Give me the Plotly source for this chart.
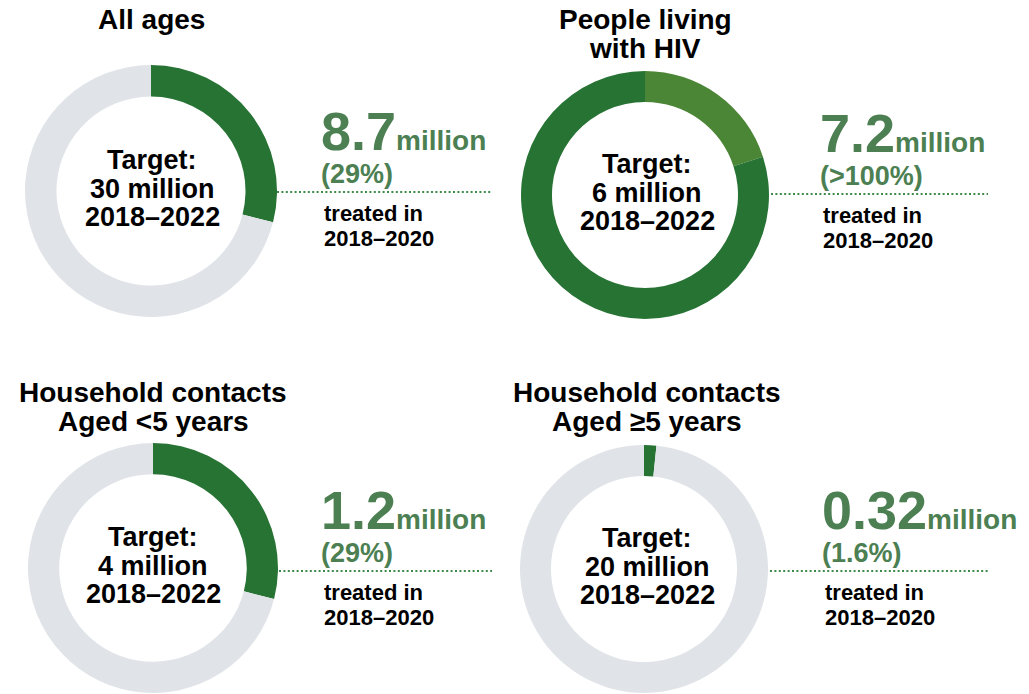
import plotly.graph_objects as go

# ---- data -------------------------------------------------------------
title_lines = [
    ["All ages"],
    ["People living", "with HIV"],
    ["Household contacts", "Aged <5 years"],
    ["Household contacts", "Aged ≥5 years"],
]
target_labels = ["30 million", "6 million", "4 million", "20 million"]
target_period = "2018–2022"
treated_values = ["8.7", "7.2", "1.2", "0.32"]
treated_unit = "million"
treated_pct = [29, 120, 29, 1.6]
pct_labels = ["(29%)", "(>100%)", "(29%)", "(1.6%)"]
treated_period = ["treated in", "2018–2020"]

# ---- style ------------------------------------------------------------
W, H = 1029, 694
DARK = "#277334"
OVER = "#4b8536"
GREY = "#e0e4e8"
TXT_GREEN = "#4c7f52"
DOT_GREEN = "#3e8a49"
FONT = "Liberation Sans, Arial, sans-serif"

# panel geometry: ring centre, ring radius, text column, text centre x
panels = [
    dict(cx=151, cy=191, r=126, tx=320, ccx=152, lx0=277, lx1=492, ly=192, top=0),
    dict(cx=645, cy=195, r=124, tx=819, ccx=647, lx0=771, lx1=988, ly=194, top=0),
    dict(cx=153, cy=568, r=125, tx=320, ccx=153, lx0=279, lx1=492, ly=571, top=372),
    dict(cx=644, cy=569, r=124, tx=821, ccx=647, lx0=770, lx1=988, ly=571, top=372),
]

fig = go.Figure()
annotations = []
shapes = []


def note(x, y, text, size, color="black", xanchor="center"):
    annotations.append(dict(
        x=x, y=y, xref="x", yref="y", text=text, showarrow=False,
        xanchor=xanchor, yanchor="middle", borderpad=0,
        font=dict(family=FONT, size=size, color=color),
    ))


for i, p in enumerate(panels):
    pct = treated_pct[i]
    if pct > 100:
        values = [pct - 100, 200 - pct]
        colors = [OVER, DARK]
    else:
        values = [pct, 100 - pct]
        colors = [DARK, GREY]

    fig.add_trace(go.Pie(
        values=values,
        marker=dict(colors=colors, line=dict(width=0)),
        hole=0.75, sort=False, direction="clockwise", rotation=0,
        textinfo="none", hoverinfo="skip", showlegend=False,
        domain=dict(
            x=[(p["cx"] - p["r"]) / W, (p["cx"] + p["r"]) / W],
            y=[1 - (p["cy"] + p["r"]) / H, 1 - (p["cy"] - p["r"]) / H],
        ),
    ))

    # panel title
    lines = title_lines[i]
    if len(lines) == 1:
        note(p["cx"], 19, f"<b>{lines[0]}</b>", 28)
    else:
        base = 19 if p["top"] == 0 else 392
        for k, t in enumerate(lines):
            note(p["ccx"] if p["top"] else p["cx"], base + 29 * k, f"<b>{t}</b>", 28)

    # target text inside the ring
    cy0 = p["cy"] - 31
    for k, t in enumerate(["Target:", target_labels[i], target_period]):
        note(p["ccx"], cy0 + 28.5 * k, f"<b>{t}</b>", 27)

    # treated figure beside the ring
    ty = p["ly"]
    note(p["tx"], ty - 61,
         f"<b>{treated_values[i]}<span style='font-size:28px'>{treated_unit}</span></b>",
         54, TXT_GREEN, "left")
    note(p["tx"], ty - 18, f"<b>{pct_labels[i]}</b>", 27, TXT_GREEN, "left")
    note(p["tx"] + 3, ty + 21, f"<b>{treated_period[0]}</b>", 22, "black", "left")
    note(p["tx"] + 3, ty + 46, f"<b>{treated_period[1]}</b>", 22, "black", "left")

    shapes.append(dict(
        type="line", xref="x", yref="y",
        x0=p["lx0"], x1=p["lx1"], y0=ty, y1=ty,
        line=dict(color=DOT_GREEN, width=2, dash="2px,2.4px"),
    ))

fig.update_layout(
    width=W, height=H,
    margin=dict(l=0, r=0, t=0, b=0),
    paper_bgcolor="white", plot_bgcolor="rgba(0,0,0,0)",
    xaxis=dict(range=[0, W], visible=False, domain=[0, 1], fixedrange=True),
    yaxis=dict(range=[H, 0], visible=False, domain=[0, 1], fixedrange=True),
    annotations=annotations,
    shapes=shapes,
)

fig.write_html("out.html")
